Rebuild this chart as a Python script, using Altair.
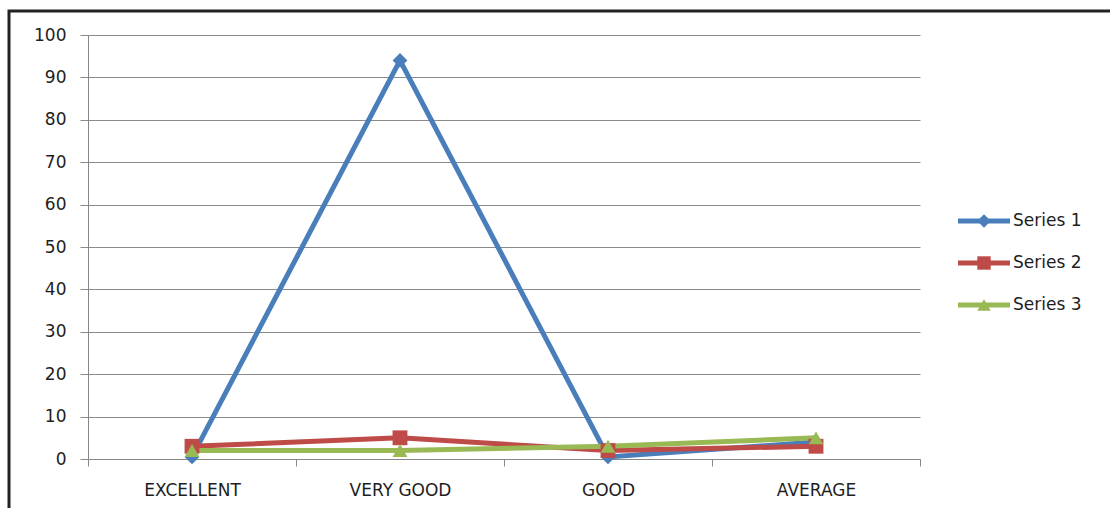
import altair as alt
import pandas as pd

# Category labels and series values
categories = ["EXCELLENT", "VERY GOOD", "GOOD", "AVERAGE"]
series_names = ["Series 1", "Series 2", "Series 3"]
series_1 = [0.5, 94, 0.5, 4]
series_2 = [3, 5, 2, 3]
series_3 = [2, 2, 3, 5]
y_ticks = list(range(0, 101, 10))

colors = ["#4A7EBB", "#BE4B48", "#98B954"]
shapes = ["diamond", "square", "triangle-up"]
FONT = "DejaVu Sans"
FONT_SIZE = 17
TEXT_COLOR = "#1E1E1E"

rows = []
for name, vals in zip(series_names, [series_1, series_2, series_3]):
    for cat, v in zip(categories, vals):
        rows.append({"category": cat, "value": v, "series": name})
df = pd.DataFrame(rows)

color = alt.Color("series:N", scale=alt.Scale(domain=series_names, range=colors), legend=None)
shape = alt.Shape("series:N", scale=alt.Scale(domain=series_names, range=shapes), legend=None)

x_enc = alt.X(
    "category:N",
    sort=categories,
    bandPosition=0.5,
    scale=alt.Scale(type="band", paddingInner=0, paddingOuter=0),
    axis=alt.Axis(
        title=None, labelAngle=0, tickBand="extent", grid=False,
        domainColor="#868686", tickColor="#868686", tickSize=7,
        labelFont=FONT, labelFontSize=FONT_SIZE, labelColor=TEXT_COLOR, labelPadding=16,
    ),
)
y_enc = alt.Y(
    "value:Q",
    scale=alt.Scale(domain=[0, 100], nice=False, zero=True),
    axis=alt.Axis(
        title=None, values=y_ticks, grid=True, gridColor="#8A8A8A", gridWidth=1.2,
        domainColor="#868686", tickColor="#8A8A8A", tickSize=8,
        labelFont=FONT, labelFontSize=FONT_SIZE, labelColor=TEXT_COLOR, labelPadding=14,
    ),
)

base = alt.Chart(df)

lines = base.mark_line(strokeWidth=5).encode(
    x=x_enc, y=y_enc, color=color, order=alt.Order("series:N"),
)
points = base.mark_point(filled=True, opacity=1, size=220).encode(
    x=x_enc, y=y_enc, color=color, shape=shape,
)
main = alt.layer(lines, points)

# Legend: a short line with the series marker and its name
leg_df = pd.DataFrame({"series": series_names})
leg_y = alt.Y("series:N", scale=alt.Scale(type="point", domain=series_names, range=[186, 270], padding=0), axis=None)
leg_base = alt.Chart(leg_df)
leg_lines = leg_base.mark_rule(strokeWidth=5).encode(
    x=alt.value(870), x2=alt.value(922), y=leg_y, color=color
)
leg_points = leg_base.mark_point(filled=True, opacity=1, size=180).encode(
    x=alt.value(896), y=leg_y, color=color, shape=shape
)
leg_text = leg_base.mark_text(align="left", baseline="middle", font=FONT, fontSize=FONT_SIZE, color=TEXT_COLOR).encode(
    x=alt.value(925), y=leg_y, text="series:N"
)
legend = alt.layer(leg_lines, leg_points, leg_text)

# Outer frame around the chart
frame = alt.Chart(pd.DataFrame({"a": [0]})).mark_rect(
    filled=False, stroke="#222222", strokeWidth=3
).encode(x=alt.value(-79), x2=alt.value(1035), y=alt.value(-24), y2=alt.value(485))

chart = (
    alt.layer(frame, main, legend)
    .resolve_scale(y="independent")
    .properties(
        width=832, height=424,
        autosize=alt.AutoSizeParams(type="none"),
        padding={"left": 88, "top": 35, "right": 190, "bottom": 49},
        background="white",
    )
    .configure_view(stroke=None)
)

chart.save("out.html", embed_options={"renderer": "svg", "actions": False})
